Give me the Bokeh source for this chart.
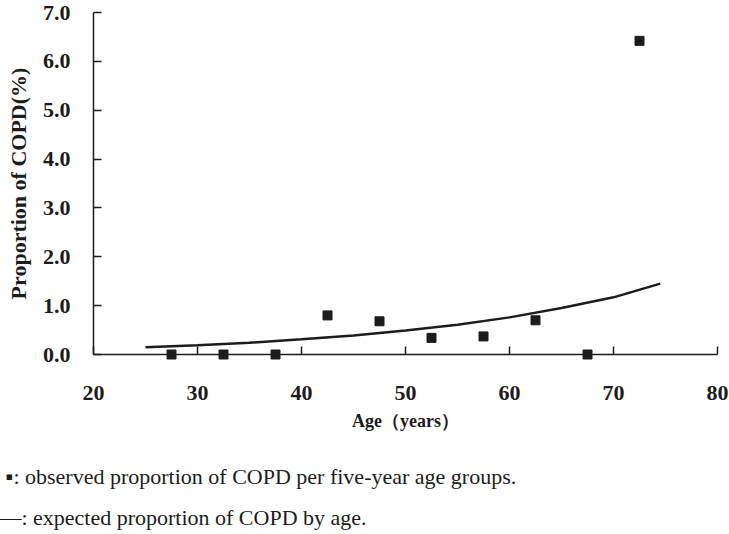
from bokeh.plotting import figure
from bokeh.models import Range1d, FixedTicker
from bokeh.core.properties import value
from bokeh.embed import file_html
from bokeh.resources import INLINE

# observed proportion of COPD per five-year age group (midpoints)
age_groups = [27.5, 32.5, 37.5, 42.5, 47.5, 52.5, 57.5, 62.5, 67.5, 72.5]
observed = [0.0, 0.0, 0.0, 0.80, 0.68, 0.34, 0.37, 0.70, 0.0, 6.42]

# expected proportion of COPD by age
curve_age = [25.0, 30.0, 35.0, 40.0, 45.0, 50.0, 55.0, 60.0, 65.0, 70.0, 74.5]
curve_val = [0.15, 0.19, 0.24, 0.31, 0.39, 0.49, 0.61, 0.76, 0.95, 1.17, 1.45]

x_ticks = [20, 30, 40, 50, 60, 70, 80]
y_ticks = [0, 1, 2, 3, 4, 5, 6, 7]
y_tick_labels = {t: f"{t:.1f}" for t in y_ticks}

footnotes = ["▪: observed proportion of COPD per five-year age groups.",
             "—: expected proportion of COPD by age."]

FONT = "Liberation Serif"
INK = "#1c1c1c"

p = figure(width=729, height=534, output_backend="svg", toolbar_location=None,
           x_range=Range1d(20, 80), y_range=Range1d(0, 7),
           min_border_left=93, min_border_right=12, min_border_top=12,
           min_border_bottom=180)
p.outline_line_color = None
p.xgrid.visible = False
p.ygrid.visible = False

p.line(curve_age, curve_val, line_color=INK, line_width=2.5)
p.scatter(age_groups, observed, marker="square", size=9, color=INK, level="overlay")

for ax in (p.xaxis[0], p.yaxis[0]):
    ax.axis_line_color = INK
    ax.axis_line_width = 1.5
    ax.major_tick_line_color = INK
    ax.major_tick_line_width = 1.5
    ax.major_tick_in = 8
    ax.major_tick_out = 0
    ax.minor_tick_line_color = None
    ax.major_label_text_font = FONT
    ax.major_label_text_font_style = "bold"
    ax.major_label_text_font_size = "22px"
    ax.major_label_text_color = INK
    ax.axis_label_text_font = FONT
    ax.axis_label_text_font_style = "bold"
    ax.axis_label_text_color = INK

p.xaxis.ticker = FixedTicker(ticks=x_ticks)
p.yaxis.ticker = FixedTicker(ticks=y_ticks)
p.yaxis.major_label_overrides = y_tick_labels
p.xaxis.major_label_standoff = 31
p.yaxis.major_label_standoff = 23

p.xaxis.axis_label = "Age（years）"
p.xaxis.axis_label_text_font_size = "18px"
p.xaxis.axis_label_standoff = 8
p.yaxis.axis_label = "Proportion of COPD(%)"
p.yaxis.axis_label_text_font_size = "22px"
p.yaxis.axis_label_standoff = 9

# footnotes below the plot area (placed in data space under the x axis)
p.text(x=[11.55, 10.95], y=[-2.5, -3.34], text=footnotes,
       text_font=value(FONT), text_font_size="22px", text_color=INK,
       text_baseline="middle", text_align="left", level="overlay")

open("out.html", "w").write(file_html(p, INLINE))
